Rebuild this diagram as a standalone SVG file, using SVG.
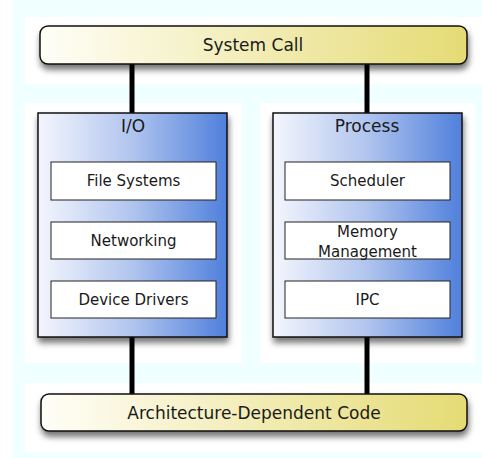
<svg xmlns="http://www.w3.org/2000/svg" width="482" height="458" viewBox="0 0 482 458">
  <defs>
    <linearGradient id="yel" x1="0" y1="0" x2="1" y2="0">
      <stop offset="0" stop-color="#fffef8"/>
      <stop offset="1" stop-color="#e5db74"/>
    </linearGradient>
    <linearGradient id="blu" x1="0" y1="0" x2="1" y2="0">
      <stop offset="0" stop-color="#f4f6fd"/>
      <stop offset="0.5" stop-color="#b0c4ee"/>
      <stop offset="1" stop-color="#5080dc"/>
    </linearGradient>
    <filter id="sh" x="-10%" y="-20%" width="120%" height="160%">
      <feDropShadow dx="1" dy="5" stdDeviation="3" flood-color="#000" flood-opacity="0.55"/>
    </filter>
    <style>
      .t { font-family: "DejaVu Sans", Verdana, sans-serif; fill: #1a1a1a; text-anchor: middle; }
      .big { font-size: 17px; }
      .sm { font-size: 15px; }
      .bar { fill: url(#yel); stroke: #111; stroke-width: 1.5; filter: url(#sh); }
      .grp { fill: url(#blu); stroke: #111; stroke-width: 1.5; filter: url(#sh); }
      .in { fill: #fff; stroke: #222; stroke-width: 1; }
      .con { stroke: #000; stroke-width: 5; stroke-linecap: round; fill: none; }
      .halo { fill: #fff; }
    </style>
  </defs>
  <rect x="0" y="0" width="482" height="458" fill="#fff"/>
  <rect x="13" y="0" width="469" height="458" fill="#f0ffff"/>
  <rect class="halo" x="25" y="17" width="457" height="67"/>
  <rect class="halo" x="25" y="103" width="217" height="260"/>
  <rect class="halo" x="260" y="103" width="215" height="260"/>
  <rect class="halo" x="25" y="383" width="457" height="69"/>

  <g id="connectors">
    <line class="con" x1="132" y1="64" x2="132" y2="113"/>
    <line class="con" x1="367" y1="64" x2="367" y2="113"/>
    <line class="con" x1="132" y1="337" x2="132" y2="394"/>
    <line class="con" x1="367" y1="337" x2="367" y2="394"/>
  </g>

  <g id="system-call">
    <rect class="bar" x="40" y="26" width="427" height="38" rx="8"/>
    <text class="t big" x="253" y="51">System Call</text>
  </g>

  <g id="io">
    <rect class="grp" x="38" y="113" width="189" height="224"/>
    <text class="t big" x="133" y="132">I/O</text>
  </g>
  <g id="file-systems">
    <rect class="in" x="51" y="162" width="165" height="38"/>
    <text class="t sm" x="133.5" y="186">File Systems</text>
  </g>
  <g id="networking">
    <rect class="in" x="51" y="222" width="165" height="37"/>
    <text class="t sm" x="133.5" y="246">Networking</text>
  </g>
  <g id="device-drivers">
    <rect class="in" x="51" y="281" width="165" height="37"/>
    <text class="t sm" x="133.5" y="305">Device Drivers</text>
  </g>

  <g id="process">
    <rect class="grp" x="273" y="113" width="189" height="224"/>
    <text class="t big" x="367" y="132">Process</text>
  </g>
  <g id="scheduler">
    <rect class="in" x="285" y="162" width="165" height="38"/>
    <text class="t sm" x="367.5" y="186">Scheduler</text>
  </g>
  <g id="memory-management">
    <rect class="in" x="285" y="222" width="165" height="37"/>
    <text class="t sm" x="367.5" y="237">Memory</text>
    <text class="t sm" x="367.5" y="257">Management</text>
  </g>
  <g id="ipc">
    <rect class="in" x="285" y="281" width="165" height="37"/>
    <text class="t sm" x="367.5" y="305">IPC</text>
  </g>

  <g id="arch">
    <rect class="bar" x="41" y="394" width="426" height="37" rx="8"/>
    <text class="t big" x="254" y="419">Architecture-Dependent Code</text>
  </g>
</svg>
